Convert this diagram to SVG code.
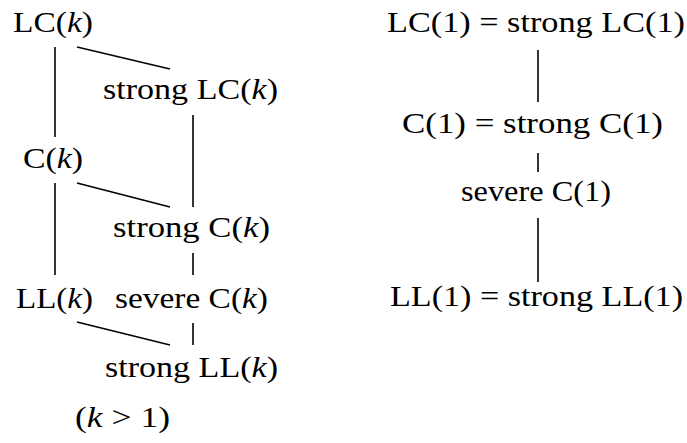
<svg xmlns="http://www.w3.org/2000/svg" width="687" height="443" viewBox="0 0 687 443">
<style>
text { font-family: "Liberation Serif", "Times New Roman", serif; font-size: 30px; fill: #000; }
.i { font-style: italic; }
.c line { stroke: #000; stroke-width: 1.6; stroke-linecap: butt; }
</style>
<rect width="687" height="443" fill="#fff"/>
<g class="c" id="connectors">
<line x1="55" y1="47" x2="55" y2="137"/>
<line x1="77" y1="47" x2="170" y2="69"/>
<line x1="193" y1="115" x2="193" y2="207"/>
<line x1="55" y1="183" x2="55" y2="275"/>
<line x1="77" y1="183" x2="170" y2="207"/>
<line x1="193" y1="253" x2="193" y2="275"/>
<line x1="77" y1="322" x2="170" y2="345"/>
<line x1="193" y1="323" x2="193" y2="345"/>
<line x1="538" y1="50" x2="538" y2="102"/>
<line x1="538" y1="153" x2="538" y2="172"/>
<line x1="538" y1="218" x2="538" y2="282"/>
</g>
<g id="lck"><text x="13" y="32" textLength="80" lengthAdjust="spacingAndGlyphs">LC(<tspan class="i">k</tspan>)</text></g>
<g id="slck"><text x="103" y="99" textLength="175" lengthAdjust="spacingAndGlyphs">strong LC(<tspan class="i">k</tspan>)</text></g>
<g id="ck"><text x="23" y="168" textLength="60" lengthAdjust="spacingAndGlyphs">C(<tspan class="i">k</tspan>)</text></g>
<g id="sck"><text x="113" y="237" textLength="157" lengthAdjust="spacingAndGlyphs">strong C(<tspan class="i">k</tspan>)</text></g>
<g id="llk"><text x="16" y="308" textLength="77" lengthAdjust="spacingAndGlyphs">LL(<tspan class="i">k</tspan>)</text></g>
<g id="sevck"><text x="115" y="308" textLength="153" lengthAdjust="spacingAndGlyphs">severe C(<tspan class="i">k</tspan>)</text></g>
<g id="sllk"><text x="105" y="377" textLength="173" lengthAdjust="spacingAndGlyphs">strong LL(<tspan class="i">k</tspan>)</text></g>
<g id="cond"><text x="75" y="427" textLength="95" lengthAdjust="spacingAndGlyphs">(<tspan class="i">k</tspan> &gt; 1)</text></g>
<g id="lc1"><text x="387" y="32" textLength="298" lengthAdjust="spacingAndGlyphs">LC(1) = strong LC(1)</text></g>
<g id="c1"><text x="402" y="133" textLength="261" lengthAdjust="spacingAndGlyphs">C(1) = strong C(1)</text></g>
<g id="sevc1"><text x="461" y="201" textLength="150" lengthAdjust="spacingAndGlyphs">severe C(1)</text></g>
<g id="ll1"><text x="390" y="306" textLength="293" lengthAdjust="spacingAndGlyphs">LL(1) = strong LL(1)</text></g>
</svg>
